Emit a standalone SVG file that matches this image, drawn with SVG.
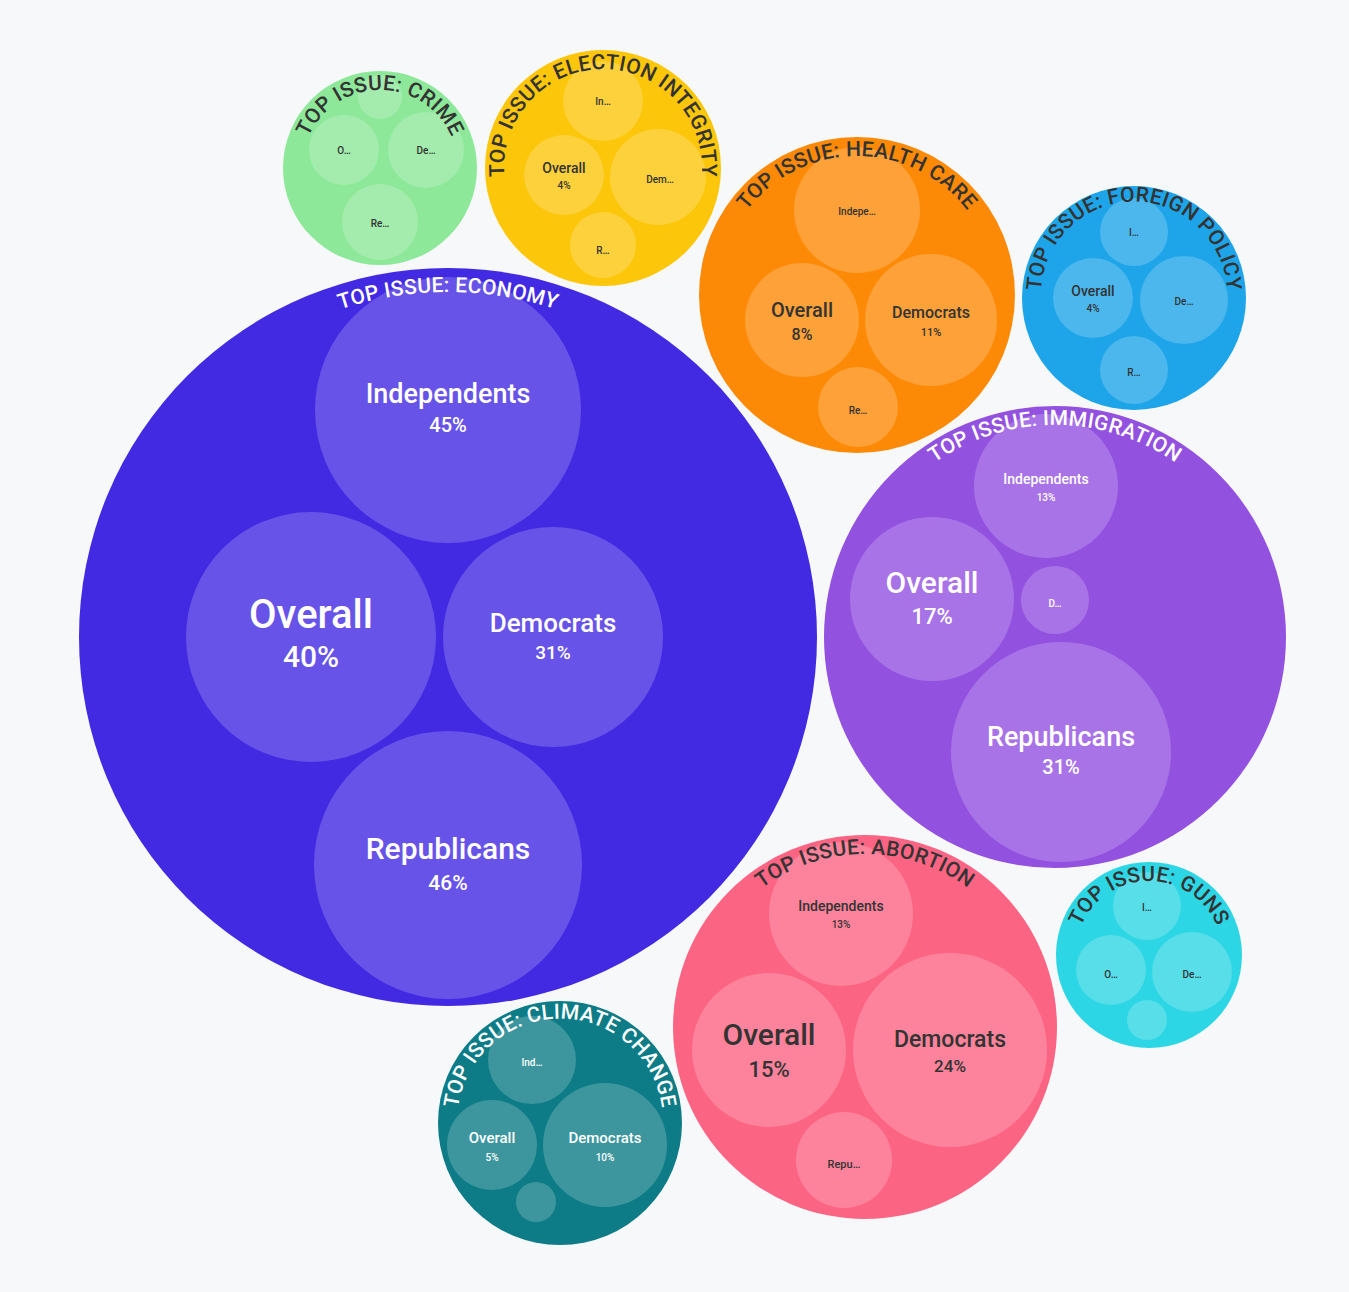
<svg xmlns="http://www.w3.org/2000/svg" width="1349" height="1292" viewBox="0 0 1349 1292">
<style>
text{font-family:Roboto,"Liberation Sans",sans-serif;font-weight:500;text-anchor:middle}
.in{fill:#fff;fill-opacity:0.2}
.w{fill:#fff}
.d{fill:#333}
.t{font-size:21px;letter-spacing:0.3px}
</style>
<defs>
<path id="pE" d="M103,637 A345,345 0 0 1 793,637"/>
<path id="pC" d="M302,168 A78,78 0 0 1 458,168"/>
<path id="pEl" d="M510,202 A99,99 0 1 1 696,202"/>
<path id="pH" d="M718,295 A139,139 0 0 1 996,295"/>
<path id="pF" d="M1048,330 A93,93 0 1 1 1220,330"/>
<path id="pI" d="M843,637 A212,212 0 0 1 1267,637"/>
<path id="pA" d="M692,1027 A173,173 0 0 1 1038,1027"/>
<path id="pG" d="M1075,955 A74,74 0 0 1 1223,955"/>
<path id="pCl" d="M461,1150 A103,103 0 1 1 659,1150"/>
</defs>
<rect width="1349" height="1292" fill="#f7f8fa"/>
<g id="economy">
<circle cx="448" cy="637" r="369" fill="#4229e2"/>
<circle class="in" cx="448" cy="410" r="133"/><circle class="in" cx="311" cy="637" r="125"/>
<circle class="in" cx="553" cy="637" r="110"/><circle class="in" cx="448" cy="865" r="134"/>
<text class="w t"><textPath href="#pE" startOffset="50%">TOP ISSUE: ECONOMY</textPath></text>
<text class="w" x="448" y="403" font-size="27">Independents</text><text class="w" x="448" y="432" font-size="20">45%</text>
<text class="w" x="311" y="628" font-size="40">Overall</text><text class="w" x="311" y="667" font-size="30">40%</text>
<text class="w" x="553" y="632" font-size="26">Democrats</text><text class="w" x="553" y="659" font-size="19">31%</text>
<text class="w" x="448" y="859" font-size="30">Republicans</text><text class="w" x="448" y="890" font-size="21">46%</text>
</g>
<g id="crime">
<circle cx="380" cy="168" r="97" fill="#8de89a"/>
<circle class="in" cx="380" cy="97" r="22"/><circle class="in" cx="344" cy="150" r="35"/>
<circle class="in" cx="426" cy="150" r="38"/><circle class="in" cx="380" cy="222" r="38"/>
<text class="d t"><textPath href="#pC" startOffset="50%">TOP ISSUE: CRIME</textPath></text>
<text class="d" x="344" y="154" font-size="10">O…</text><text class="d" x="426" y="154" font-size="10">De…</text><text class="d" x="380" y="227" font-size="10">Re…</text>
</g>
<g id="election">
<circle cx="603" cy="168" r="118" fill="#fcc60a"/>
<circle class="in" cx="603" cy="101" r="40"/><circle class="in" cx="564" cy="175" r="40"/>
<circle class="in" cx="658" cy="177" r="48"/><circle class="in" cx="603" cy="245" r="33"/>
<text class="d t"><textPath href="#pEl" startOffset="50%">TOP ISSUE: ELECTION INTEGRITY</textPath></text>
<text class="d" x="603" y="105" font-size="10">In…</text>
<text class="d" x="564" y="173" font-size="14">Overall</text><text class="d" x="564" y="189" font-size="10">4%</text>
<text class="d" x="660" y="183" font-size="10">Dem…</text><text class="d" x="603" y="254" font-size="10">R…</text>
</g>
<g id="health">
<circle cx="857" cy="295" r="158" fill="#fd8a07"/>
<circle class="in" cx="857" cy="210" r="63"/><circle class="in" cx="802" cy="320" r="57"/>
<circle class="in" cx="931" cy="320" r="66"/><circle class="in" cx="858" cy="407" r="40"/>
<text class="d t"><textPath href="#pH" startOffset="50%">TOP ISSUE: HEALTH CARE</textPath></text>
<text class="d" x="857" y="215" font-size="10">Indepe…</text>
<text class="d" x="802" y="317" font-size="20">Overall</text><text class="d" x="802" y="340" font-size="16">8%</text>
<text class="d" x="931" y="318" font-size="16">Democrats</text><text class="d" x="931" y="336" font-size="11">11%</text>
<text class="d" x="858" y="414" font-size="10">Re…</text>
</g>
<g id="foreign">
<circle cx="1134" cy="298" r="112" fill="#1ea5e9"/>
<circle class="in" cx="1134" cy="232" r="34"/><circle class="in" cx="1093" cy="298" r="40"/>
<circle class="in" cx="1184" cy="300" r="44"/><circle class="in" cx="1134" cy="370" r="34"/>
<text class="d t"><textPath href="#pF" startOffset="50%">TOP ISSUE: FOREIGN POLICY</textPath></text>
<text class="d" x="1134" y="236" font-size="10">I…</text>
<text class="d" x="1093" y="296" font-size="14">Overall</text><text class="d" x="1093" y="312" font-size="10">4%</text>
<text class="d" x="1184" y="305" font-size="10">De…</text><text class="d" x="1134" y="376" font-size="10">R…</text>
</g>
<g id="immigration">
<circle cx="1055" cy="637" r="231" fill="#9351e0"/>
<circle class="in" cx="1046" cy="486" r="72"/><circle class="in" cx="932" cy="599" r="82"/>
<circle class="in" cx="1055" cy="600" r="34"/><circle class="in" cx="1061" cy="752" r="110"/>
<text class="w t"><textPath href="#pI" startOffset="50%">TOP ISSUE: IMMIGRATION</textPath></text>
<text class="w" x="1046" y="484" font-size="14">Independents</text><text class="w" x="1046" y="501" font-size="10">13%</text>
<text class="w" x="932" y="593" font-size="30">Overall</text><text class="w" x="932" y="624" font-size="22">17%</text>
<text class="w" x="1055" y="607" font-size="10">D…</text>
<text class="w" x="1061" y="746" font-size="27">Republicans</text><text class="w" x="1061" y="774" font-size="20">31%</text>
</g>
<g id="abortion">
<circle cx="865" cy="1027" r="192" fill="#fc6483"/>
<circle class="in" cx="841" cy="914" r="72"/><circle class="in" cx="769" cy="1050" r="77"/>
<circle class="in" cx="950" cy="1050" r="97"/><circle class="in" cx="844" cy="1160" r="48"/>
<text class="d t"><textPath href="#pA" startOffset="50%">TOP ISSUE: ABORTION</textPath></text>
<text class="d" x="841" y="911" font-size="14">Independents</text><text class="d" x="841" y="928" font-size="10">13%</text>
<text class="d" x="769" y="1045" font-size="30">Overall</text><text class="d" x="769" y="1077" font-size="22">15%</text>
<text class="d" x="950" y="1047" font-size="23">Democrats</text><text class="d" x="950" y="1072" font-size="17">24%</text>
<text class="d" x="844" y="1168" font-size="11">Repu…</text>
</g>
<g id="guns">
<circle cx="1149" cy="955" r="93" fill="#2dd6e4"/>
<circle class="in" cx="1147" cy="906" r="34"/><circle class="in" cx="1111" cy="970" r="35"/>
<circle class="in" cx="1192" cy="972" r="40"/><circle class="in" cx="1147" cy="1020" r="20"/>
<text class="d t"><textPath href="#pG" startOffset="50%">TOP ISSUE: GUNS</textPath></text>
<text class="d" x="1147" y="911" font-size="10">I…</text><text class="d" x="1111" y="978" font-size="10">O…</text><text class="d" x="1192" y="978" font-size="10">De…</text>
</g>
<g id="climate">
<circle cx="560" cy="1123" r="122" fill="#0d7c86"/>
<circle class="in" cx="532" cy="1060" r="44"/><circle class="in" cx="492" cy="1145" r="45"/>
<circle class="in" cx="605" cy="1145" r="62"/><circle class="in" cx="536" cy="1202" r="20"/>
<text class="w t"><textPath href="#pCl" startOffset="50%">TOP ISSUE: CLIMATE CHANGE</textPath></text>
<text class="w" x="532" y="1066" font-size="10">Ind…</text>
<text class="w" x="492" y="1143" font-size="15">Overall</text><text class="w" x="492" y="1161" font-size="10">5%</text>
<text class="w" x="605" y="1143" font-size="15">Democrats</text><text class="w" x="605" y="1161" font-size="10">10%</text>
</g>
<g id="connectors"/>
</svg>
